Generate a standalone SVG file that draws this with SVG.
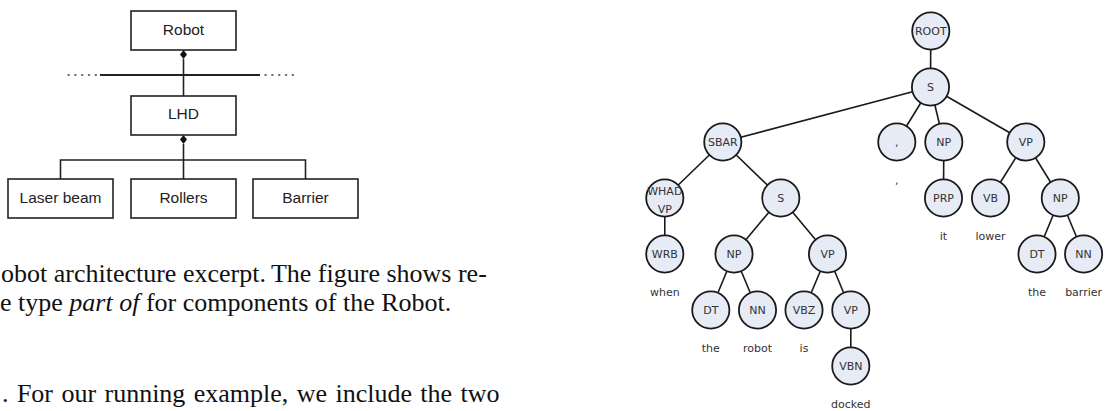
<svg xmlns="http://www.w3.org/2000/svg" width="1105" height="411" viewBox="0 0 1105 411">
  <style>
    .box { fill: #ffffff; stroke: #222; stroke-width: 1.6; }
    .boxtxt { font-family: "Liberation Sans", Arial, sans-serif; font-size: 15.5px; fill: #222; text-anchor: middle; }
    .wire { stroke: #222; stroke-width: 1.6; fill: none; }
    .dots { stroke: #444; stroke-width: 1.4; stroke-dasharray: 1.2 5.6; stroke-linecap: round; fill: none; }
    .cap { font-family: "Liberation Serif", "Times New Roman", serif; font-size: 26px; fill: #111; }
    .edge { stroke: #1a1a1a; stroke-width: 1.6; fill: none; }
    .node circle { fill: #e6ebf6; stroke: #1a1a1a; stroke-width: 1.8; }
    .tag { font-family: "DejaVu Sans", Verdana, sans-serif; font-size: 11px; fill: #333; text-anchor: middle; }
    .word { font-family: "DejaVu Sans", Verdana, sans-serif; font-size: 11px; fill: #333; text-anchor: middle; }
  </style>

  <!-- Robot architecture: composition lines -->
  <g id="arch-connectors">
    <line class="wire" x1="183.5" y1="59" x2="183.5" y2="96"/>
    <line class="wire" x1="100" y1="75" x2="260" y2="75" style="stroke-width:2"/>
    <line class="dots" x1="68" y1="75" x2="97" y2="75"/>
    <line class="dots" x1="265" y1="75" x2="294" y2="75"/>
    <line class="wire" x1="183.5" y1="144" x2="183.5" y2="179"/>
    <polyline class="wire" points="60.5,179 60.5,160 305.5,160 305.5,179"/>
    <path d="M183.5,50 L187,54.5 L183.5,59 L180,54.5 Z" fill="#111"/>
    <path d="M183.5,135 L187,139.5 L183.5,144 L180,139.5 Z" fill="#111"/>
  </g>

  <g id="robot"><rect class="box" x="131" y="11" width="105" height="39"/><text class="boxtxt" x="183.5" y="34.5">Robot</text></g>
  <g id="lhd"><rect class="box" x="131" y="96" width="105" height="39"/><text class="boxtxt" x="183.5" y="119">LHD</text></g>
  <g id="laser-beam"><rect class="box" x="8" y="179" width="105" height="39"/><text class="boxtxt" x="60.5" y="202.5">Laser beam</text></g>
  <g id="rollers"><rect class="box" x="131" y="179" width="105" height="39"/><text class="boxtxt" x="183.5" y="202.5">Rollers</text></g>
  <g id="barrier"><rect class="box" x="253" y="179" width="105" height="39"/><text class="boxtxt" x="305.5" y="202.5">Barrier</text></g>

  <!-- caption and body text -->
  <text class="cap" x="1" y="282">obot architecture excerpt.<tspan dx="5">The figure shows re-</tspan></text>
  <text class="cap" x="0" y="311">e type <tspan font-style="italic">part of</tspan> for components of the Robot.</text>
  <text class="cap" x="2" y="402" word-spacing="1.9">. For our running example, we include the two</text>

  <!-- parse tree edges -->
  <g id="tree-edges">
    <line class="edge" x1="930.8" y1="31" x2="930.5" y2="87"/>
    <line class="edge" x1="930.5" y1="87" x2="722.8" y2="142"/>
    <line class="edge" x1="930.5" y1="87" x2="896.8" y2="142"/>
    <line class="edge" x1="930.5" y1="87" x2="943.8" y2="142"/>
    <line class="edge" x1="930.5" y1="87" x2="1025.8" y2="142"/>
    <line class="edge" x1="722.8" y1="142" x2="664.8" y2="198"/>
    <line class="edge" x1="722.8" y1="142" x2="780.8" y2="198"/>
    <line class="edge" x1="664.8" y1="198" x2="664.8" y2="254"/>
    <line class="edge" x1="780.8" y1="198" x2="734" y2="254"/>
    <line class="edge" x1="780.8" y1="198" x2="827.5" y2="254"/>
    <line class="edge" x1="734" y1="254" x2="710.8" y2="310"/>
    <line class="edge" x1="734" y1="254" x2="757.5" y2="310"/>
    <line class="edge" x1="827.5" y1="254" x2="804" y2="310"/>
    <line class="edge" x1="827.5" y1="254" x2="850.8" y2="310"/>
    <line class="edge" x1="850.8" y1="310" x2="850.8" y2="366"/>
    <line class="edge" x1="943.8" y1="142" x2="943.5" y2="198"/>
    <line class="edge" x1="1025.8" y1="142" x2="990.5" y2="198"/>
    <line class="edge" x1="1025.8" y1="142" x2="1060.3" y2="198"/>
    <line class="edge" x1="1060.3" y1="198" x2="1037" y2="254"/>
    <line class="edge" x1="1060.3" y1="198" x2="1083.6" y2="254"/>
  </g>

  <!-- parse tree nodes -->
  <g id="n-root" class="node"><circle cx="930.8" cy="31" r="18.6"/><text class="tag" x="930.8" y="35">ROOT</text></g>
  <g id="n-s" class="node"><circle cx="930.5" cy="87" r="18.6"/><text class="tag" x="930.5" y="91">S</text></g>
  <g id="n-sbar" class="node"><circle cx="722.8" cy="142" r="18.6"/><text class="tag" x="722.8" y="146">SBAR</text></g>
  <g id="n-comma" class="node"><circle cx="896.8" cy="142" r="18.6"/><text class="tag" x="896.8" y="146">,</text></g>
  <g id="n-np" class="node"><circle cx="943.8" cy="142" r="18.6"/><text class="tag" x="943.8" y="146">NP</text></g>
  <g id="n-vp" class="node"><circle cx="1025.8" cy="142" r="18.6"/><text class="tag" x="1025.8" y="146">VP</text></g>
  <g id="n-whadvp" class="node"><circle cx="664.8" cy="198" r="18.6"/><text class="tag" x="664.8" y="195">WHAD</text><text class="tag" x="664.8" y="213">VP</text></g>
  <g id="n-s2" class="node"><circle cx="780.8" cy="198" r="18.6"/><text class="tag" x="780.8" y="202">S</text></g>
  <g id="n-prp" class="node"><circle cx="943.5" cy="198" r="18.6"/><text class="tag" x="943.5" y="202">PRP</text></g>
  <g id="n-vb" class="node"><circle cx="990.5" cy="198" r="18.6"/><text class="tag" x="990.5" y="202">VB</text></g>
  <g id="n-np3" class="node"><circle cx="1060.3" cy="198" r="18.6"/><text class="tag" x="1060.3" y="202">NP</text></g>
  <g id="n-wrb" class="node"><circle cx="664.8" cy="254" r="18.6"/><text class="tag" x="664.8" y="258">WRB</text></g>
  <g id="n-np2" class="node"><circle cx="734" cy="254" r="18.6"/><text class="tag" x="734" y="258">NP</text></g>
  <g id="n-vp2" class="node"><circle cx="827.5" cy="254" r="18.6"/><text class="tag" x="827.5" y="258">VP</text></g>
  <g id="n-dt3" class="node"><circle cx="1037" cy="254" r="18.6"/><text class="tag" x="1037" y="258">DT</text></g>
  <g id="n-nn3" class="node"><circle cx="1083.6" cy="254" r="18.6"/><text class="tag" x="1083.6" y="258">NN</text></g>
  <g id="n-dt2" class="node"><circle cx="710.8" cy="310" r="18.6"/><text class="tag" x="710.8" y="314">DT</text></g>
  <g id="n-nn2" class="node"><circle cx="757.5" cy="310" r="18.6"/><text class="tag" x="757.5" y="314">NN</text></g>
  <g id="n-vbz" class="node"><circle cx="804" cy="310" r="18.6"/><text class="tag" x="804" y="314">VBZ</text></g>
  <g id="n-vp3" class="node"><circle cx="850.8" cy="310" r="18.6"/><text class="tag" x="850.8" y="314">VP</text></g>
  <g id="n-vbn" class="node"><circle cx="850.8" cy="366" r="18.6"/><text class="tag" x="850.8" y="370">VBN</text></g>

  <!-- leaf words -->
  <g id="words">
    <text class="word" x="664.8" y="296">when</text>
    <text class="word" x="710.8" y="352">the</text>
    <text class="word" x="757.5" y="352">robot</text>
    <text class="word" x="804" y="352">is</text>
    <text class="word" x="850.8" y="408">docked</text>
    <text class="word" x="896.8" y="184">,</text>
    <text class="word" x="943.5" y="240">it</text>
    <text class="word" x="990.5" y="240">lower</text>
    <text class="word" x="1037" y="296">the</text>
    <text class="word" x="1083.6" y="296">barrier</text>
  </g>
</svg>
